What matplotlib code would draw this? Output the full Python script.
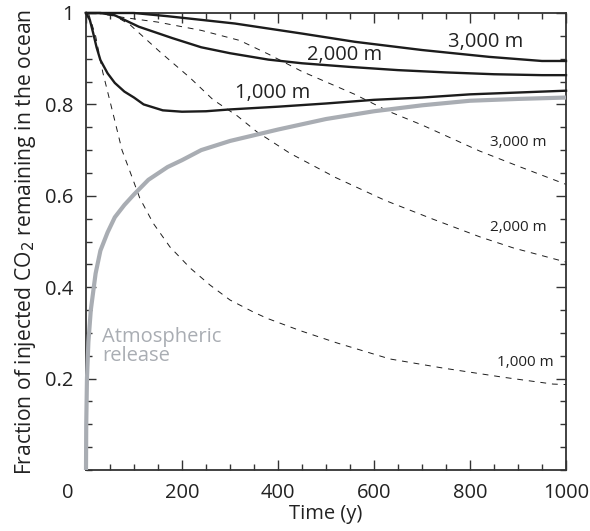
import numpy as np
import matplotlib
matplotlib.use("Agg")
import matplotlib.pyplot as plt
import matplotlib.transforms as mtransforms

plt.rcParams['font.family'] = ['Open Sans', 'DejaVu Sans']

# ---- data ----
t_atm = [0, 0.5, 2, 5, 10, 15, 20, 30, 45, 60, 80, 100, 130, 170, 200, 240, 300,
         400, 500, 600, 700, 800, 900, 1000]
v_atm = [0.0, 0.1, 0.2, 0.28, 0.35, 0.39, 0.43, 0.48, 0.52, 0.553, 0.58, 0.603,
         0.635, 0.663, 0.678, 0.70, 0.72, 0.745, 0.768, 0.785, 0.798, 0.808, 0.812, 0.815]

t_s1000 = [0, 8, 15, 22, 30, 45, 60, 80, 100, 120, 160, 200, 250, 300, 400, 500, 600,
           700, 800, 900, 1000]
v_s1000 = [1.0, 0.985, 0.956, 0.925, 0.897, 0.868, 0.847, 0.828, 0.815, 0.80, 0.787,
           0.784, 0.785, 0.789, 0.795, 0.802, 0.81, 0.815, 0.822, 0.826, 0.83]

t_s2000 = [0, 30, 60, 110, 180, 240, 300, 380, 450, 550, 650, 750, 850, 950, 1000]
v_s2000 = [1.0, 1.0, 0.995, 0.97, 0.945, 0.925, 0.912, 0.898, 0.89, 0.882, 0.875,
           0.87, 0.866, 0.864, 0.864]

t_s3000 = [0, 100, 170, 240, 310, 450, 560, 700, 840, 950, 1000]
v_s3000 = [1.0, 1.0, 0.993, 0.985, 0.977, 0.955, 0.937, 0.919, 0.904, 0.895, 0.895]

t_d1000 = [5, 20, 35, 54, 75, 98, 112, 140, 175, 217, 258, 300, 348, 377, 446, 523,
           633, 744, 869, 973, 1000]
v_d1000 = [1.0, 0.95, 0.87, 0.79, 0.70, 0.635, 0.595, 0.54, 0.488, 0.442, 0.405,
           0.372, 0.346, 0.332, 0.305, 0.278, 0.243, 0.223, 0.203, 0.188, 0.187]

t_d2000 = [50, 92, 154, 217, 265, 315, 356, 425, 520, 623, 720, 821, 890, 1000]
v_d2000 = [1.0, 0.974, 0.915, 0.858, 0.81, 0.775, 0.74, 0.693, 0.64, 0.59, 0.55,
           0.51, 0.486, 0.455]

t_d3000 = [20, 80, 150, 240, 320, 380, 450, 560, 630, 700, 820, 900, 1000]
v_d3000 = [1.0, 0.99, 0.98, 0.962, 0.94, 0.91, 0.872, 0.822, 0.785, 0.755, 0.698,
           0.665, 0.625]

x_ticks = [0, 200, 400, 600, 800, 1000]
y_ticks = [0.2, 0.4, 0.6, 0.8, 1.0]
y_ticklabels = ["0.2", "0.4", "0.6", "0.8", "1"]

# ---- figure ----
fig = plt.figure(figsize=(5.9, 5.31), dpi=100)
ax = fig.add_axes([86/590, 1 - 470/531, 480/590, 457/531])

black = "#1c1c1c"
gray = "#a9adb3"
txt = '#222222'

ax.plot(t_atm, v_atm, color=gray, lw=3.0, solid_capstyle='butt', clip_on=False, zorder=3)
for t, v in [(t_s1000, v_s1000), (t_s2000, v_s2000), (t_s3000, v_s3000)]:
    ax.plot(t, v, color=black, lw=1.7, zorder=4, clip_on=False)
for t, v in [(t_d1000, v_d1000), (t_d2000, v_d2000), (t_d3000, v_d3000)]:
    ax.plot(t, v, color=black, lw=0.7, linestyle=(0, (6, 6)), zorder=2)

ax.set_xlim(0, 1000)
ax.set_ylim(0, 1)
ax.set_xticks(x_ticks)
ax.set_xticks(np.arange(0, 1001, 50), minor=True)
ax.set_yticks(y_ticks)
ax.set_yticklabels(y_ticklabels)
ax.set_yticks(np.arange(0, 1.001, 0.05), minor=True)

ax.tick_params(which='both', direction='in', top=True, right=True, color='#333333',
               width=1.0, labelsize=14.5, labelcolor=txt)
ax.tick_params(which='major', length=7)
ax.tick_params(which='minor', length=4.5)
ax.tick_params(axis='y', pad=9)
ax.tick_params(axis='x', pad=9)
for s in ax.spines.values():
    s.set_color('#333333')
    s.set_linewidth(1.3)

# shift the "0" x tick label to the left as in the reference
fig.canvas.draw()
lab0 = ax.get_xticklabels()[0]
lab0.set_transform(lab0.get_transform() + mtransforms.ScaledTranslation(-18/100, 0, fig.dpi_scale_trans))

ax.set_xlabel("Time (y)", fontsize=14.5, color=txt, labelpad=1)
ax.set_ylabel("Fraction of injected CO$_2$ remaining in the ocean", fontsize=15.2,
              color=txt, labelpad=5)

# curve labels (positions in data coordinates)
ax.text(833, 0.937, "3,000 m", fontsize=14.5, ha='center', va='center', color=txt)
ax.text(538, 0.908, "2,000 m", fontsize=14.5, ha='center', va='center', color=txt)
ax.text(388, 0.825, "1,000 m", fontsize=14.5, ha='center', va='center', color=txt)
ax.text(900, 0.716, "3,000 m", fontsize=11, ha='center', va='center', color=txt)
ax.text(900, 0.530, "2,000 m", fontsize=11, ha='center', va='center', color=txt)
ax.text(915, 0.236, "1,000 m", fontsize=11, ha='center', va='center', color=txt)
ax.text(33, 0.271, "Atmospheric\nrelease", fontsize=14.5, ha='left', va='center',
        color=gray, linespacing=0.92)

fig.savefig("out.png", dpi=100)
